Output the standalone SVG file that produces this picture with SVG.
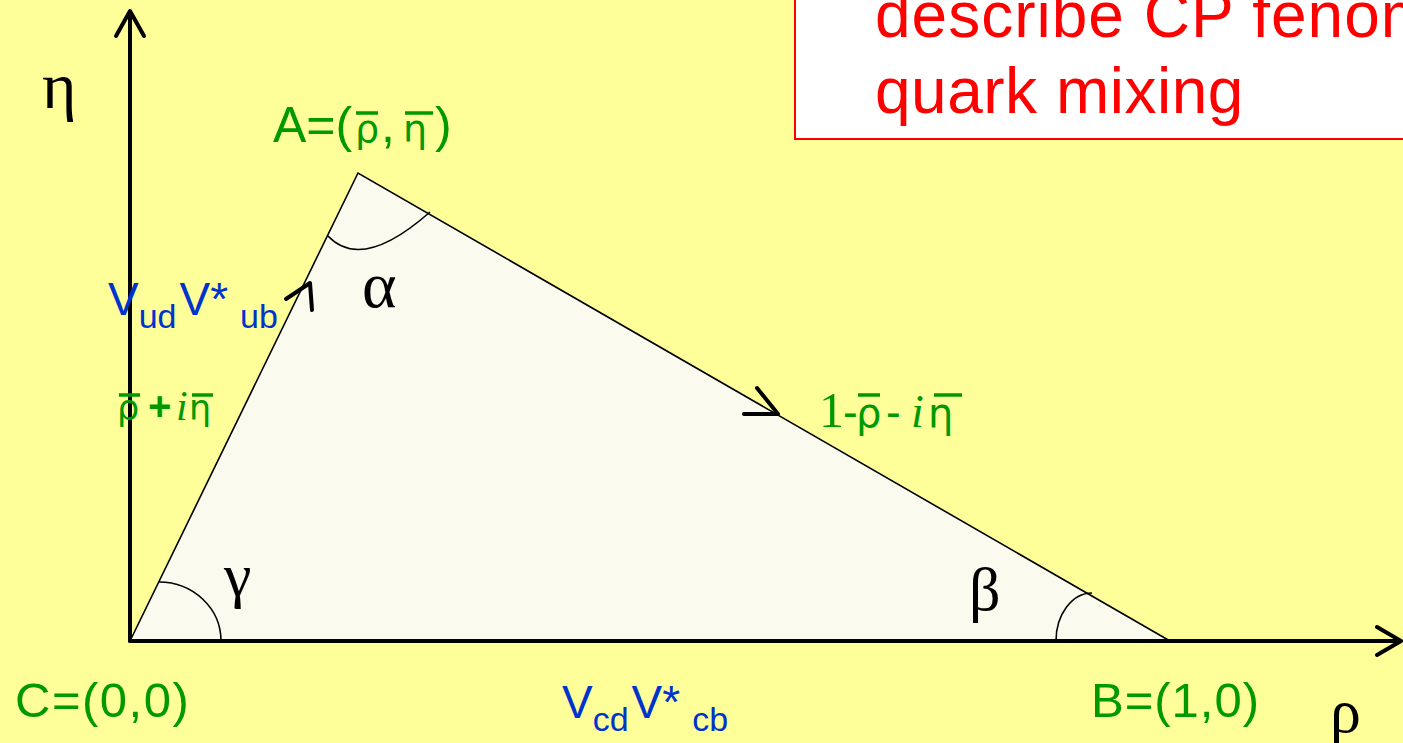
<svg xmlns="http://www.w3.org/2000/svg" width="1403" height="743" viewBox="0 0 1403 743">
<style>
.sans{font-family:"Liberation Sans",Arial,sans-serif}
.serif{font-family:"Liberation Serif","Times New Roman",serif}
.gr{font-family:"DejaVu Sans","Liberation Sans",sans-serif}
.green{fill:#009900}
.blue{fill:#0033CC}
.red{fill:#FF0000}
.blk{fill:#000}
.edge{fill:none;stroke:#000;stroke-width:1.6}
.axis{fill:none;stroke:#000;stroke-width:4;stroke-linecap:round;stroke-linejoin:round}
.arr{fill:none;stroke:#000;stroke-width:4;stroke-linecap:round;stroke-linejoin:round}
.bar{stroke:#009900;stroke-width:3.5}
</style>
<rect x="0" y="0" width="1403" height="743" fill="#FFFF99"/>
<g id="note">
<rect x="795" y="-5" width="625" height="144" fill="#FFFFFF" stroke="#FF0000" stroke-width="2"/>
<text class="sans red" x="875" y="37" font-size="64" letter-spacing="1">describe CP fenom</text>
<text class="sans red" x="875" y="113" font-size="64" letter-spacing="0.5">quark mixing</text>
</g>
<g id="triangle">
<polygon points="130,641 358,173 1170,641" fill="#FAFAEE" stroke="#000" stroke-width="1.6"/>
</g>
<g id="axes">
<line x1="130" y1="641" x2="130" y2="12" class="axis"/>
<polyline points="116,36 130,11 144,36" class="axis"/>
<line x1="130" y1="641" x2="1400" y2="641" class="axis"/>
<polyline points="1377,627 1401,641 1377,655" class="axis"/>
</g>
<g id="connectors">
<polyline points="286,299 310,283 312,310" class="arr"/>
<polyline points="757,388 778,414 744,414" class="arr"/>
<path d="M328,236 Q362,272 430,212" class="edge"/>
<path d="M159,582 A62,59 0 0 1 221,641" class="edge"/>
<path d="M1092,593 A36,48 0 0 0 1056,641" class="edge"/>
</g>
<g id="node-A">
<text class="sans green" y="142" font-size="50"><tspan x="273">A=(</tspan><tspan x="355" class="gr" font-size="38">ρ</tspan><tspan x="381">,</tspan><tspan x="403" class="gr" font-size="38">η</tspan><tspan x="435">)</tspan></text>
<line x1="356" y1="113" x2="378" y2="113" class="bar"/>
<line x1="405" y1="113" x2="433" y2="113" class="bar"/>
<text class="serif blk" x="362" y="307" font-size="66">α</text>
</g>
<g id="node-C">
<text class="sans green" x="15" y="717" font-size="49" letter-spacing="1.5">C=(0,0)</text>
<text class="serif blk" x="224" y="596" font-size="62">γ</text>
</g>
<g id="node-B">
<text class="sans green" x="1091" y="717" font-size="49" letter-spacing="1">B=(1,0)</text>
<text class="serif blk" x="969" y="610" font-size="62">β</text>
</g>
<g id="axis-labels">
<text class="serif blk" x="42" y="108" font-size="66">η</text>
<text class="serif blk" x="1330" y="732" font-size="62">ρ</text>
</g>
<g id="edge-labels">
<text class="sans blue" x="108" y="315" font-size="46">V<tspan font-size="34" dy="13">ud</tspan><tspan font-size="46" dy="-13" dx="3">V*</tspan><tspan font-size="34" dy="13" dx="12">ub</tspan></text>
<text class="sans green" y="420" font-size="40"><tspan x="117" class="gr" font-size="35">ρ</tspan><tspan x="148" font-weight="bold">+</tspan><tspan x="176" class="serif" font-size="42" font-style="italic">i</tspan><tspan x="189" class="gr" font-size="35">η</tspan></text>
<line x1="119" y1="395" x2="140" y2="395" class="bar" stroke-width="3"/>
<line x1="192" y1="395" x2="213" y2="395" class="bar" stroke-width="3"/>
<text class="sans green" y="427" font-size="44"><tspan x="819" class="serif" font-size="50">1</tspan><tspan x="843">-</tspan><tspan x="856" class="gr" font-size="40">ρ</tspan><tspan x="886">-</tspan><tspan x="911" class="serif" font-size="46" font-style="italic">i</tspan><tspan x="928" class="gr" font-size="40">η</tspan></text>
<line x1="858" y1="395" x2="880" y2="395" class="bar" stroke-width="3"/>
<line x1="934" y1="395" x2="962" y2="395" class="bar" stroke-width="3"/>
<text class="sans blue" x="562" y="718" font-size="46">V<tspan font-size="34" dy="13">cd</tspan><tspan font-size="46" dy="-13" dx="3">V*</tspan><tspan font-size="34" dy="13" dx="12">cb</tspan></text>
</g>
</svg>
